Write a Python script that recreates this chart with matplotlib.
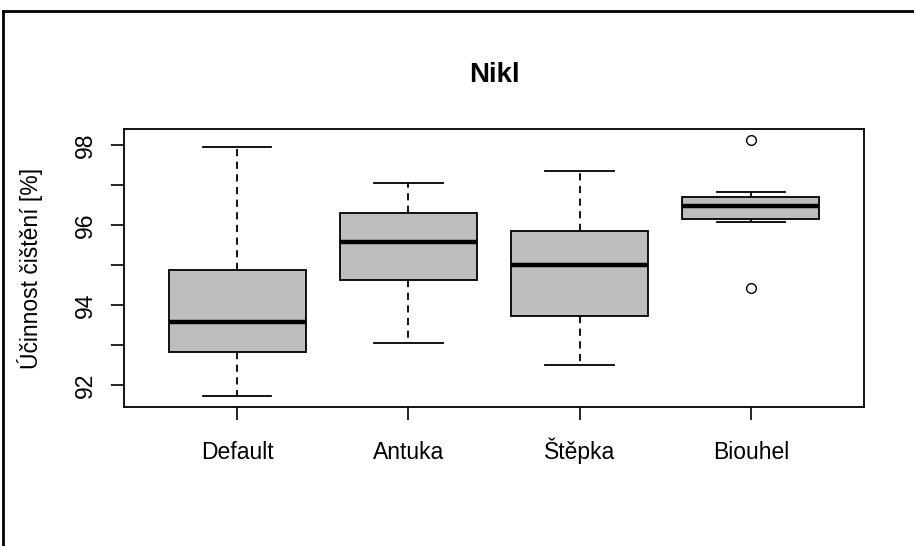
import matplotlib
matplotlib.use('Agg')
import matplotlib.pyplot as plt
from matplotlib.lines import Line2D

plt.rcParams['font.family'] = ['Liberation Sans', 'DejaVu Sans']

# data
groups = ['Default', 'Antuka', 'Štěpka', 'Biouhel']
whislo = [91.72, 93.06, 92.49, 96.08]
q1 = [92.83, 94.62, 93.72, 96.15]
med = [93.57, 95.58, 94.99, 96.48]
q3 = [94.87, 96.29, 95.85, 96.71]
whishi = [97.95, 97.06, 97.34, 96.83]
fliers = [[], [], [], [98.13, 94.43]]

stats = []
for i in range(len(groups)):
    stats.append(dict(label=groups[i], whislo=whislo[i], q1=q1[i], med=med[i],
                      q3=q3[i], whishi=whishi[i], fliers=fliers[i]))

fig = plt.figure(figsize=(9.14, 5.46), dpi=100)
ax = fig.add_axes([124 / 914, 1 - 407 / 546, 740 / 914, 278 / 546])

ax.bxp(stats, positions=[1, 2, 3, 4], widths=0.8, patch_artist=True,
       boxprops=dict(facecolor='#BEBEBE', edgecolor='black', linewidth=1.3),
       medianprops=dict(color='black', linewidth=3.2, solid_capstyle='butt'),
       whiskerprops=dict(color='black', linewidth=1.3, linestyle=(0, (4, 3))),
       capprops=dict(color='black', linewidth=1.3),
       capwidths=0.4,
       flierprops=dict(marker='o', markerfacecolor='none', markeredgecolor='black',
                       markersize=7, markeredgewidth=1.0))

ax.set_xlim(0.34, 4.66)
ax.set_ylim(91.45, 98.4)
ax.set_yticks([92, 93, 94, 95, 96, 97, 98])
ax.set_yticklabels(['92', '', '94', '', '96', '', '98'], rotation=90, va='center')
ax.tick_params(axis='both', labelsize=16.5, length=9.5, width=1.2)
ax.tick_params(axis='x', pad=28)
ax.tick_params(axis='y', pad=10)
# keep all x labels on one baseline (the caron in Štěpka would push it down)
for lab in ax.get_xticklabels():
    lab.set_va('baseline')
for s in ax.spines.values():
    s.set_linewidth(1.3)

ax.set_title('Nikl', fontsize=20, fontweight='bold', pad=34)
ax.set_ylabel('Účinnost čištění [%]', fontsize=16.5)
ax.yaxis.set_label_coords(-81 / 740, 0.5)

# outer frame (top and left edge of the screenshot)
fig.add_artist(Line2D([3 / 914, 1], [1 - 11 / 546, 1 - 11 / 546], color='black', linewidth=2))
fig.add_artist(Line2D([3 / 914, 3 / 914], [0, 1 - 11 / 546], color='black', linewidth=2))

fig.savefig('out.png', dpi=100)
